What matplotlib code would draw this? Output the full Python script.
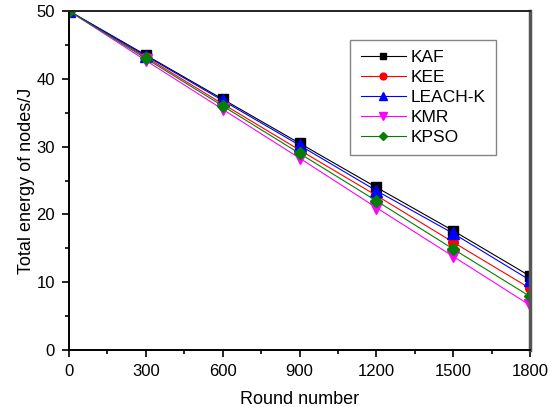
import matplotlib
matplotlib.use("Agg")
import matplotlib.pyplot as plt
from matplotlib.ticker import MultipleLocator

rounds = [0, 300, 600, 900, 1200, 1500, 1800]
kaf = [50, 43.5, 37.0, 30.5, 24.0, 17.6, 10.9]
kee = [50, 43.2, 36.3, 29.5, 22.8, 15.9, 9.1]
leach_k = [50, 43.4, 36.8, 30.2, 23.5, 17.2, 10.3]
kmr = [50, 42.7, 35.5, 28.3, 21.0, 13.8, 6.6]
kpso = [50, 43.0, 36.0, 29.0, 22.0, 14.9, 7.9]

series = [
    ("KAF", kaf, "black", "s", 7),
    ("KEE", kee, "red", "o", 7),
    ("LEACH-K", leach_k, "blue", "^", 8),
    ("KMR", kmr, "magenta", "v", 8),
    ("KPSO", kpso, "green", "D", 6.5),
]

plt.rcParams['font.family'] = ['Liberation Sans', 'DejaVu Sans']
fig = plt.figure(figsize=(5.57, 4.07), dpi=100)
ax = fig.add_axes([69/557, 1-350/407, 461/557, 339/407])

for name, vals, col, mk, ms in series:
    ax.plot(rounds, vals, color=col, marker=mk, markersize=ms, linewidth=0.8, label=name)

ax.set_xlim(0, 1800)
ax.set_ylim(0, 50)
ax.set_xticks(rounds)
ax.set_yticks([0, 10, 20, 30, 40, 50])
ax.xaxis.set_minor_locator(MultipleLocator(150))
ax.yaxis.set_minor_locator(MultipleLocator(5))
ax.tick_params(which='both', direction='out', top=False, right=False, labelsize=12)
ax.tick_params(which='major', length=5, width=1.2, pad=5)
ax.tick_params(which='minor', length=3, width=1.2)
for s in ['left', 'bottom', 'top']:
    ax.spines[s].set_linewidth(1.4)
ax.spines['right'].set_linewidth(2.5)
ax.spines['right'].set_color('#555555')
ax.spines['top'].set_color('#222222')

ax.set_xlabel("Round number", fontsize=13, labelpad=9)
ax.set_ylabel("Total energy of nodes/J", fontsize=13, labelpad=1)

leg = ax.legend(loc='upper left', bbox_to_anchor=(0.61, 0.915), borderaxespad=0,
                fancybox=False, edgecolor='#666666', fontsize=12.5, handlelength=2.6,
                borderpad=0.6, labelspacing=0.27, handletextpad=0.3,
                markerscale=0.7)
leg.get_frame().set_linewidth(1.0)

fig.savefig("out.png", dpi=100)
